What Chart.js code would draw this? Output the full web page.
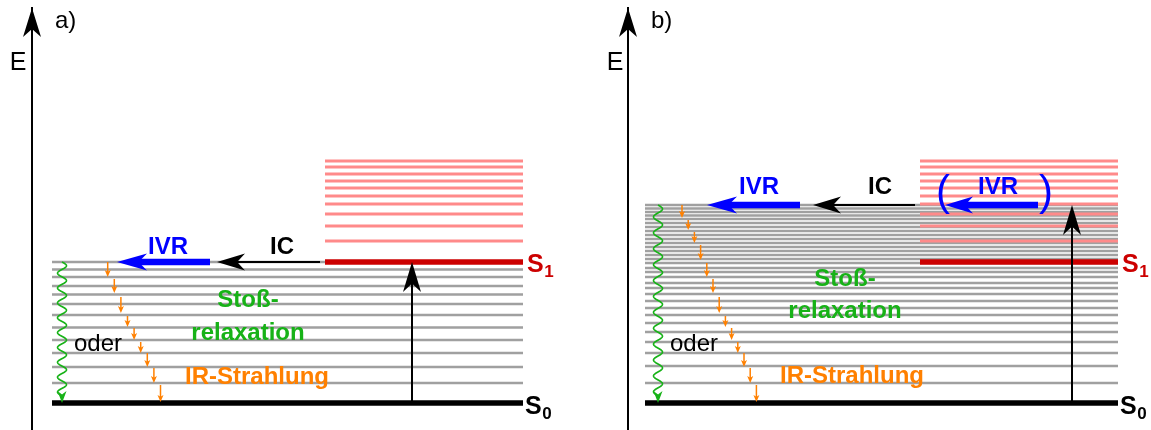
<!DOCTYPE html>
<html><head><meta charset="utf-8">
<script src="https://cdn.jsdelivr.net/npm/chart.js@4.4.1/dist/chart.umd.min.js"></script>
<style>
html,body{margin:0;padding:0;background:#fff;overflow:hidden}
#wrap{display:flex;width:1151px;height:430px}
canvas{display:block}
</style></head><body>
<div id="wrap"><canvas id="ca" width="575" height="430"></canvas><canvas id="cb" width="576" height="430"></canvas></div>
<script>
// ---------- data (energies in arbitrary units, S0 = 0) ----------
const S0 = 0;
const S1 = 141;
const s1VibLevels = [162, 177, 189, 199, 207, 215, 222, 229, 236, 242];
const s0LevelsA = [20, 36, 50, 63, 75.5, 88, 99, 108.5, 117, 126, 133.5];
const s0ShortA = [141];
const s0LevelsB = [20, 37, 50, 61, 71, 80, 88, 95, 102, 109, 115, 120, 126, 131, 135, 140, 144, 148, 152, 156, 160, 164, 168, 172, 176, 180, 184, 187.5, 191, 194.5, 198];
const s0ShortB = [];
const topEnergyA = 141;
const topEnergyB = 198;
const irStepsA = [[141,126],[124,110],[106,90],[87,76],[75,63],[61,50],[50,36],[35,20],[18,1]];
const irStepsB = [[198,185],[183,173],[171,160],[158,143],[140,126],[124,110],[106,90],[87,76],[75,63],[61,50],[50,36],[35,20],[18,1]];
const textIVR = 'IVR', textIC = 'IC', textStoss = 'Stoß-', textRelax = 'relaxation', textOder = 'oder', textIR = 'IR-Strahlung', textE = 'E';

// ---------- layout / style ----------
const FONT = '"Liberation Sans", Arial, sans-serif';
const C = {gray:'#a0a0a0', pink:'#ff8a8a', red:'#cc0000', black:'#000', blue:'#0000ff', green:'#17b217', orange:'#ff8000'};
const geomA = {
  canvas:'ca', width:575, axisLeft:32, tag:'a)',
  levels:s0LevelsA, shortLevels:s0ShortA, top:topEnergyA, ir:irStepsA,
  levelSpan:[20,491], s1Span:[293,491], shortSpan:[20,293],
  waveX:30, irX0:75.7, irStep:6.6, excX:380,
  ic:[288,185], ivr:[178,85], paren:null,
  txt:{ivr:[136,156], ic:[250,156], stoss:[216,103], relax:[216,70], oder:[66,59], ir:[225,26], s1:[495,138], s0:[493,-4], E:[-14,340], tag:[23,382]}
};
const geomB = {
  canvas:'cb', width:576, axisLeft:53, tag:'b)',
  levels:s0LevelsB, shortLevels:s0ShortB, top:topEnergyB, ir:irStepsB,
  levelSpan:[17,490], s1Span:[292,490], shortSpan:[17,292],
  waveX:30, irX0:54, irStep:6.2, excX:444,
  ic:[287,185], ivr:[172,79], paren:{arrow:[410,317], energy:198, text:[370,216], open:[315,210], close:[418,210]},
  txt:{ivr:[131,216], ic:[252,216], stoss:[217,124], relax:[217,92], oder:[66,59], ir:[224,27], s1:[494,138], s0:[492,-4], E:[-13,340], tag:[23,382]}
};

function levelData(energies, span) {
  const d = [];
  energies.forEach(e => { d.push({x:span[0], y:e}, {x:span[1], y:e}, {x:span[1], y:null}); });
  return d;
}

function stealth(ctx, tx, ty, dx, dy, L, w, n, color) {
  const px = -dy, py = dx;
  const bx = tx - L*dx, by = ty - L*dy;
  const nx = tx - n*L*dx, ny = ty - n*L*dy;
  ctx.beginPath();
  ctx.moveTo(tx, ty);
  ctx.lineTo(bx + w*px, by + w*py);
  ctx.lineTo(nx, ny);
  ctx.lineTo(bx - w*px, by - w*py);
  ctx.closePath();
  ctx.fillStyle = color; ctx.fill();
}
function arrow(ctx, x1, y1, x2, y2, color, lw, L, w, n) {
  const len = Math.hypot(x2-x1, y2-y1);
  const dx = (x2-x1)/len, dy = (y2-y1)/len;
  const ex = x2 - dx*(n*L - 1), ey = y2 - dy*(n*L - 1);
  ctx.beginPath(); ctx.moveTo(x1, y1); ctx.lineTo(ex, ey);
  ctx.strokeStyle = color; ctx.lineWidth = lw; ctx.lineCap = 'butt'; ctx.stroke();
  stealth(ctx, x2, y2, dx, dy, L, w, n, color);
}
function wave(ctx, x, yTop, yBot, color) {
  const headL = 12;
  const end = yBot - headL*0.6;
  const cycles = Math.round((end - yTop)/15.5);
  const period = (end - yTop)/cycles;
  ctx.beginPath();
  for (let y = yTop; y <= end + 0.01; y += 0.5) {
    const xx = x + 4.5*Math.sin(2*Math.PI*(y - yTop)/period);
    if (y === yTop) ctx.moveTo(xx, y); else ctx.lineTo(xx, y);
  }
  ctx.strokeStyle = color; ctx.lineWidth = 1.6; ctx.stroke();
  stealth(ctx, x, yBot, 0, 1, headL, 4.5, 0.7, color);
}
function text(ctx, s, x, y, font, color, align) {
  ctx.font = font; ctx.fillStyle = color; ctx.textAlign = align || 'center'; ctx.textBaseline = 'middle';
  ctx.fillText(s, x, y);
}
function stateLabel(ctx, sub, x, y, color) {
  ctx.font = 'bold 25px ' + FONT; ctx.fillStyle = color; ctx.textAlign = 'left'; ctx.textBaseline = 'middle';
  ctx.fillText('S', x, y);
  const w = ctx.measureText('S').width;
  ctx.font = 'bold 17px ' + FONT;
  ctx.fillText(sub, x + w + 0.5, y + 7);
}

const overlay = {
  id: 'overlay',
  afterDatasetsDraw(chart, args, opts) {
    const g = opts.g;
    const xs = chart.scales.x, ys = chart.scales.y;
    const X = v => xs.getPixelForValue(v), Y = v => ys.getPixelForValue(v);
    const ctx = chart.ctx, ca = chart.chartArea;
    ctx.save();
    // energy axis arrowhead
    stealth(ctx, ca.left, ca.top, 0, -1, 29, 9, 0.72, C.black);
    text(ctx, textE, X(g.txt.E[0]), Y(g.txt.E[1]), '25px ' + FONT, C.black);
    text(ctx, g.tag, X(g.txt.tag[0]), Y(g.txt.tag[1]), '24px ' + FONT, C.black, 'left');
    // IR emission steps
    g.ir.forEach((st, i) => {
      const x = X(g.irX0 + i*g.irStep);
      arrow(ctx, x, Y(st[0]), x, Y(st[1]), C.orange, 1.5, 7, 3, 0.75);
    });
    // collisional relaxation (wavy)
    wave(ctx, X(g.waveX), Y(g.top), Y(S0), C.green);
    // excitation
    arrow(ctx, X(g.excX), Y(S0), X(g.excX), Y(g.top), C.black, 2, 30, 9, 0.72);
    // IC and IVR
    arrow(ctx, X(g.ic[0]), Y(g.top), X(g.ic[1]), Y(g.top), C.black, 2, 28, 8.5, 0.72);
    arrow(ctx, X(g.ivr[0]), Y(g.top), X(g.ivr[1]), Y(g.top), C.blue, 6.5, 30, 8.5, 0.72);
    if (g.paren) {
      const p = g.paren;
      arrow(ctx, X(p.arrow[0]), Y(p.energy), X(p.arrow[1]), Y(p.energy), C.blue, 6.5, 28, 8.5, 0.72);
      text(ctx, textIVR, X(p.text[0]), Y(p.text[1]), 'bold 24px ' + FONT, C.blue);
      text(ctx, '(', X(p.open[0]), Y(p.open[1]), '42px ' + FONT, C.blue);
      text(ctx, ')', X(p.close[0]), Y(p.close[1]), '42px ' + FONT, C.blue);
    }
    const t = g.txt;
    text(ctx, textIVR, X(t.ivr[0]), Y(t.ivr[1]), 'bold 24px ' + FONT, C.blue);
    text(ctx, textIC, X(t.ic[0]), Y(t.ic[1]), 'bold 24px ' + FONT, C.black);
    text(ctx, textStoss, X(t.stoss[0]), Y(t.stoss[1]), 'bold 24px ' + FONT, C.green);
    text(ctx, textRelax, X(t.relax[0]), Y(t.relax[1]), 'bold 24px ' + FONT, C.green);
    text(ctx, textOder, X(t.oder[0]), Y(t.oder[1]), '24px ' + FONT, C.black);
    text(ctx, textIR, X(t.ir[0]), Y(t.ir[1]), 'bold 24px ' + FONT, C.orange);
    stateLabel(ctx, '1', X(t.s1[0]), Y(t.s1[1]), C.red);
    stateLabel(ctx, '0', X(t.s0[0]), Y(t.s0[1]), C.black);
    ctx.restore();
  }
};

function makePanel(g) {
  const base = {pointRadius:0, showLine:true, spanGaps:false, borderCapStyle:'butt', fill:false};
  new Chart(document.getElementById(g.canvas), {
    type: 'scatter',
    data: {datasets: [
      Object.assign({data: levelData(g.levels, g.levelSpan).concat(levelData(g.shortLevels, g.shortSpan)), borderColor:C.gray, borderWidth:2.6, order:4}, base),
      Object.assign({data: levelData(s1VibLevels, g.s1Span), borderColor:C.pink, borderWidth:3, order:3}, base),
      Object.assign({data: levelData([S1], g.s1Span), borderColor:C.red, borderWidth:5.5, order:2}, base),
      Object.assign({data: levelData([S0], g.levelSpan), borderColor:C.black, borderWidth:5.5, order:1}, base)
    ]},
    options: {
      responsive:false, animation:false, devicePixelRatio:1,
      layout:{autoPadding:false, padding:{left:g.axisLeft, top:8, right:0, bottom:0}},
      plugins:{legend:{display:false}, tooltip:{enabled:false}, overlay:{g:g}},
      scales:{
        x:{type:'linear', min:0, max:g.width - g.axisLeft, display:false},
        y:{type:'linear', min:-27, max:395, display:true,
           ticks:{display:false}, grid:{display:false, drawTicks:false},
           border:{display:true, color:'#000', width:2},
           afterFit: s => { s.width = 0; }}
      }
    },
    plugins:[overlay]
  });
}
makePanel(geomA);
makePanel(geomB);
</script>
</body></html>
